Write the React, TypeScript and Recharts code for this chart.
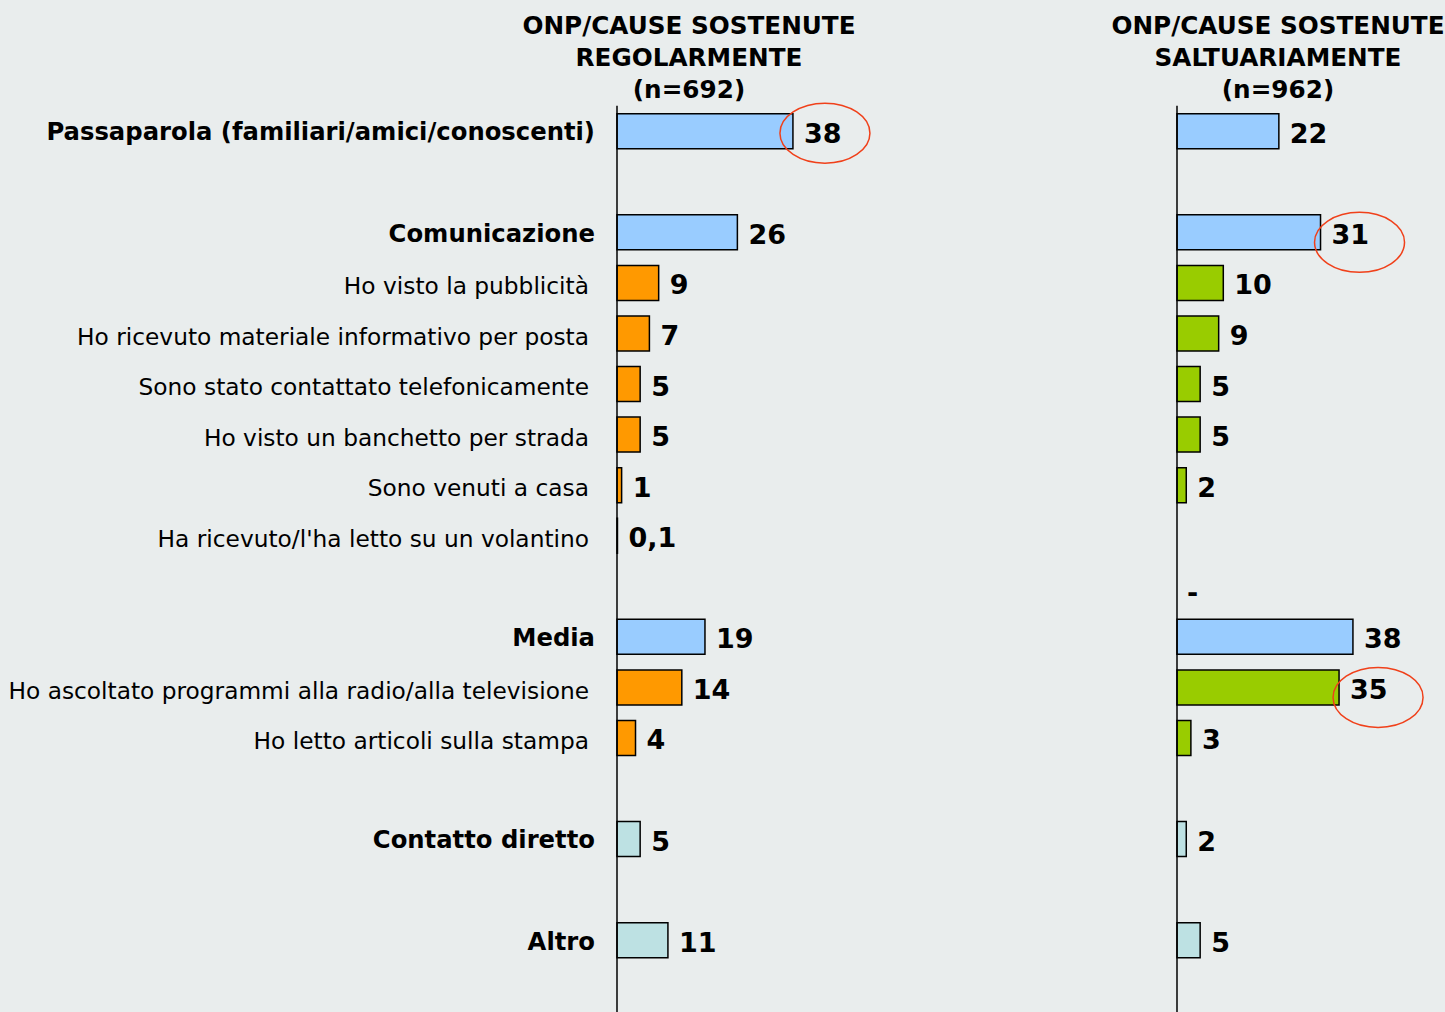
import React from 'react';
import { BarChart, Bar, XAxis, YAxis, Cell, LabelList } from 'recharts';

// righe del grafico ('' = riga vuota di separazione)
const rowNames = [
  'Passaparola (familiari/amici/conoscenti)',
  '',
  'Comunicazione',
  'Ho visto la pubblicità',
  'Ho ricevuto materiale informativo per posta',
  'Sono stato contattato telefonicamente',
  'Ho visto un banchetto per strada',
  'Sono venuti a casa',
  "Ha ricevuto/l'ha letto su un volantino",
  '',
  'Media',
  'Ho ascoltato programmi alla radio/alla televisione',
  'Ho letto articoli sulla stampa',
  '',
  'Contatto diretto',
  '',
  'Altro',
];
const rowKinds = [
  'main', 'gap', 'main', 'sub', 'sub', 'sub', 'sub', 'sub', 'sub', 'gap',
  'main', 'sub', 'sub', 'gap', 'other', 'gap', 'other',
];

const regolarmente = [38, 0, 26, 9, 7, 5, 5, 1, 0.1, 0, 19, 14, 4, 0, 5, 0, 11];
const regolarmenteLabels = ['38', '', '26', '9', '7', '5', '5', '1', '0,1', '', '19', '14', '4', '', '5', '', '11'];
const regolarmenteHighlight = [0];

const saltuariamente = [22, 0, 31, 10, 9, 5, 5, 2, 0, 0, 38, 35, 3, 0, 2, 0, 5];
const saltuariamenteLabels = ['22', '', '31', '10', '9', '5', '5', '2', '', '-', '38', '35', '3', '', '2', '', '5'];
const saltuariamenteHighlight = [2, 11];

const titles = [
  ['ONP/CAUSE SOSTENUTE', 'REGOLARMENTE', '(n=692)'],
  ['ONP/CAUSE SOSTENUTE', 'SALTUARIAMENTE', '(n=962)'],
];

const BG = '#E9EDED';
const FONT = '"DejaVu Sans", Verdana, sans-serif';
const COLORS: Record<string, { left: string; right: string }> = {
  main: { left: '#99CCFF', right: '#99CCFF' },
  sub: { left: '#FF9900', right: '#99CC00' },
  other: { left: '#BDE1E3', right: '#BDE1E3' },
  gap: { left: 'none', right: 'none' },
};

const MAX = 60;
const PX = 4.63;
const TOP = 105.7;
const BOTTOM_PAD = 46.7;

const leftData = rowNames.map((name, i) => ({
  name: name || `gap${i}`,
  value: regolarmente[i],
  lab: regolarmenteLabels[i],
  hi: regolarmenteHighlight.includes(i) ? 'hi' : '',
}));
const rightData = rowNames.map((name, i) => ({
  name: name || `gap${i}`,
  value: saltuariamente[i],
  lab: saltuariamenteLabels[i],
  hi: saltuariamenteHighlight.includes(i) ? 'hi' : '',
}));

function box(props: any) {
  const vb = props.viewBox ?? props;
  return {
    x: Number(props.x ?? vb.x),
    y: Number(props.y ?? vb.y),
    w: Number(props.width ?? vb.width ?? 0),
    h: Number(props.height ?? vb.height ?? 0),
  };
}

const valueText = (x: number, y: number, v: string) => (
  <text x={x} y={y} dominantBaseline="central"
    fontFamily={FONT} fontSize={27} fontWeight={700} fill="#000">
    {v}
  </text>
);

const ValueLabel = (props: any) => {
  if (!props.value) return null;
  const { x, y, w, h } = box(props);
  return valueText(x + w + 11, y + h / 2 + 2, props.value);
};

const HighlightRing = (dx: number, dy: number) => (props: any) => {
  if (props.value !== 'hi') return null;
  const { x, y, w, h } = box(props);
  return (
    <ellipse cx={x + w + dx} cy={y + h / 2 + dy} rx={45} ry={30}
      fill="none" stroke="#F0401A" strokeWidth={1.5} />
  );
};

const RowTick = ({ y, payload }: any) => {
  const idx = payload?.index ?? 0;
  const kind = rowKinds[idx];
  if (kind === 'gap') return null;
  const bold = kind !== 'sub';
  return (
    <text x={bold ? 595 : 589} y={y} dy={bold ? 1 : 3} textAnchor="end" dominantBaseline="central"
      fontFamily={FONT} fontSize={bold ? 24.3 : 23.3} fontWeight={bold ? 700 : 400} fill="#000">
      {rowNames[idx]}
    </text>
  );
};

// valori senza barra (es. "-") scritti accanto all'asse destro
const RightTick = ({ x, y, payload }: any) => {
  const idx = payload?.index ?? 0;
  const lab = saltuariamenteLabels[idx];
  if (!lab || saltuariamente[idx] !== 0) return null;
  return valueText(x + 10, y + 6, lab);
};

function Title({ lines, cx }: { lines: string[]; cx: number }) {
  return (
    <div style={{
      position: 'absolute', left: cx - 250, top: 10, width: 500, textAlign: 'center',
      fontFamily: FONT, fontWeight: 700, fontSize: 24.7, lineHeight: '32px', color: '#000',
    }}>
      {lines.map(l => <div key={l}>{l}</div>)}
    </div>
  );
}

export default function App() {
  return (
    <div style={{ position: 'absolute', left: 0, top: 0, width: 1445, height: 1012, background: BG, overflow: 'hidden' }}>
      <Title lines={titles[0]} cx={689} />
      <Title lines={titles[1]} cx={1278} />

      <div style={{ position: 'absolute', left: 0, top: 0 }}>
        <BarChart width={617 + MAX * PX} height={1012} data={leftData} layout="vertical"
          margin={{ top: TOP, right: 0, bottom: 0, left: 0 }} barSize={35}>
          <XAxis type="number" domain={[0, MAX]} hide />
          <YAxis type="category" dataKey="name" width={617} tickLine={false}
            axisLine={{ stroke: '#000', strokeWidth: 1.5 }} interval={0}
            padding={{ top: 0, bottom: BOTTOM_PAD }} tick={<RowTick />} />
          <Bar dataKey="value" stroke="#000" strokeWidth={1.5} isAnimationActive={false}>
            {leftData.map((_, i) => <Cell key={i} fill={COLORS[rowKinds[i]].left} />)}
            <LabelList dataKey="lab" content={ValueLabel} />
            <LabelList dataKey="hi" content={HighlightRing(32, 2)} />
          </Bar>
        </BarChart>
      </div>

      <div style={{ position: 'absolute', left: 1167, top: 0 }}>
        <BarChart width={10 + MAX * PX} height={1012} data={rightData} layout="vertical"
          margin={{ top: TOP, right: 0, bottom: 0, left: 0 }} barSize={35}>
          <XAxis type="number" domain={[0, MAX]} hide />
          <YAxis type="category" dataKey="name" width={10} tickLine={false} tickSize={0} tickMargin={0}
            axisLine={{ stroke: '#000', strokeWidth: 1.5 }} interval={0}
            padding={{ top: 0, bottom: BOTTOM_PAD }} tick={<RightTick />} />
          <Bar dataKey="value" stroke="#000" strokeWidth={1.5} isAnimationActive={false}>
            {rightData.map((_, i) => <Cell key={i} fill={COLORS[rowKinds[i]].right} />)}
            <LabelList dataKey="lab" content={ValueLabel} />
            <LabelList dataKey="hi" content={HighlightRing(39, 10)} />
          </Bar>
        </BarChart>
      </div>
    </div>
  );
}
